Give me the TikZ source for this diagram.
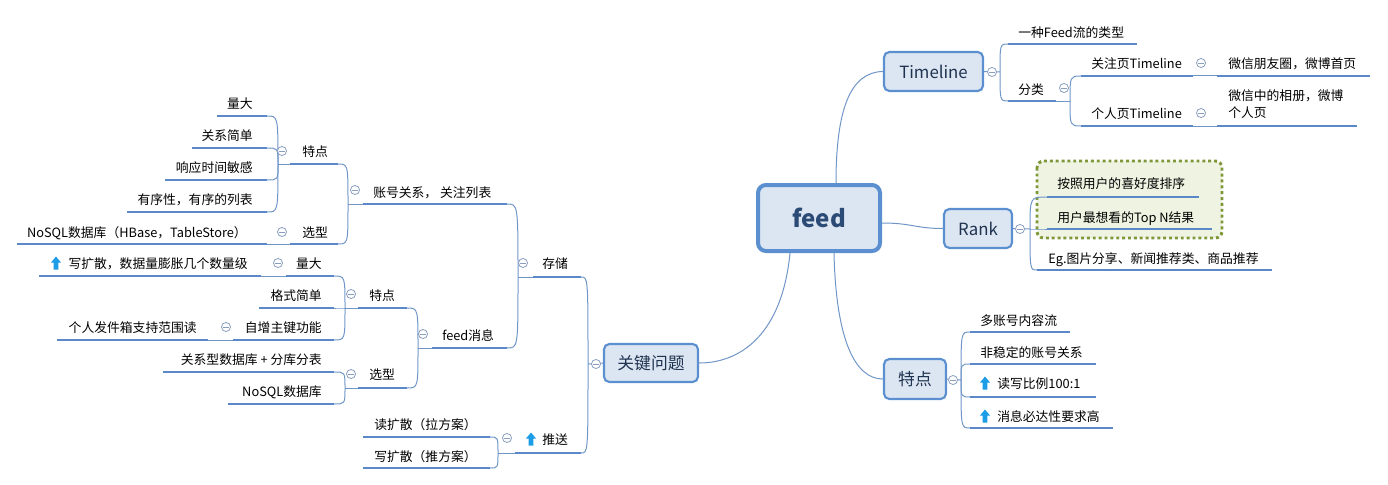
\documentclass[tikz,border=0pt]{standalone}
\usepackage{fontspec}
\setmainfont{Noto Sans CJK SC}
\definecolor{ulcol}{HTML}{5A88C8}
\definecolor{lncol}{HTML}{7096C8}
\definecolor{topicedge}{HTML}{5B8FD0}
\definecolor{topicfill}{HTML}{DCE6F2}
\definecolor{topictext}{HTML}{1F3350}
\definecolor{feedtext}{HTML}{2B4A75}
\definecolor{knobcol}{HTML}{8A9FBF}
\definecolor{iconcol}{HTML}{1C9DE6}
\definecolor{dotedge}{HTML}{7E9739}
\definecolor{dotfill}{HTML}{EFF4E2}
\tikzset{
  topic/.style={draw=topicedge, line width=1.6pt, fill=topicfill, rounded corners=4pt,
    text=topictext, font=\fontsize{12.6}{14}\selectfont, inner sep=0pt},
  lbl/.style={inner sep=0pt, text height=0.88em, text depth=0.12em,
    font=\fontsize{9.6}{11}\selectfont},
  uline/.style={draw=ulcol, line width=2.2pt},
  conn/.style={draw=lncol, line width=0.75pt},
  knob/.pic={\draw[knobcol, fill=white, line width=0.6pt] (0,0) circle[radius=3.4pt];
    \draw[knobcol, line width=0.6pt] (-1.9pt,0) -- (1.9pt,0);},
  upicon/.pic={\fill[iconcol] (0,-6.5) -- (5,-0.5) -- (2.3,-0.5) -- (2.3,6.5)
    -- (-2.3,6.5) -- (-2.3,-0.5) -- (-5,-0.5) -- cycle;}
}
\newcommand\branch[2]{\draw[conn] (#1) .. controls (#1 |- #2) .. (#2);}
\begin{document}
\begin{tikzpicture}[x=0.75pt,y=-0.75pt]
\useasboundingbox (0,0) rectangle (1388,485);
\draw[dotedge, fill=dotfill, line width=2.2pt, dash pattern=on 2.2pt off 2.2pt, rounded corners=5pt]
  (1037,161) rectangle (1222,238);

% centre and main topics
\node[topic, line width=3pt, rounded corners=6pt, minimum width=91.5pt, minimum height=49.5pt,
  text=feedtext, font=\bfseries\fontsize{18}{20}\selectfont] (feed) at (819,218) {feed};
\node[topic, minimum width=74.25pt, minimum height=29.25pt] (timeline) at (933.5,71.5) {Timeline};
\node[topic, minimum width=51pt, minimum height=29.25pt] (rank) at (978,228.5) {Rank};
\node[topic, minimum width=46.5pt, minimum height=30pt] (tedian) at (915,379) {特点};
\node[topic, minimum width=70.5pt, minimum height=28.5pt] (keyq) at (651,363) {关键问题};
\draw[conn] (feed.north -| 836,0) .. controls (836,110) and (850,72) .. (timeline.west);
\draw[conn] (feed.east |- 0,223) .. controls (912,223) and (915,228.5) .. (rank.west);
\draw[conn] (feed.south -| 834,0) .. controls (836,340) and (855,379) .. (tedian.west);
\draw[conn] (feed.south -| 790,0) .. controls (782,335) and (740,363) .. (keyq.east);

% Timeline
\coordinate (tlj) at (1000,72);
\coordinate (tl1) at (1008,44);
\coordinate (tl2) at (1008,101);
\draw[conn] (timeline.east) -- (tlj);
\branch{tlj}{tl1} \branch{tlj}{tl2}
\draw[uline] (tl1) -- ++(129,0);
\draw[uline] (tl2) -- ++(48,0) coordinate (tl2e);
\node[lbl, anchor=west] (tltype) at (1018,32) {一种Feed流的类型};
\node[lbl, anchor=west] (tlcat) at (1018,89) {分类};
\coordinate (clj) at (1070,101);
\coordinate (cl1) at (1081,76);
\coordinate (cl2) at (1081,126);
\draw[conn] (tl2e) -- (clj);
\branch{clj}{cl1} \branch{clj}{cl2}
\draw[uline] (cl1) -- ++(112,0) coordinate (cl1e);
\draw[uline] (cl2) -- ++(112,0) coordinate (cl2e);
\draw[conn] (cl1e) -- ++(24,0) coordinate (cr1);
\draw[conn] (cl2e) -- ++(24,0) coordinate (cr2);
\draw[uline] (cr1) -- ++(153,0);
\draw[uline] (cr2) -- ++(140,0);
\node[lbl, anchor=west] (clfollow) at (1091,63) {关注页Timeline};
\node[lbl, anchor=west] (clself) at (1091,113) {个人页Timeline};
\node[lbl, anchor=west] (crfollow) at (1228,63) {微信朋友圈，微博首页};
\node[inner sep=0pt, font=\fontsize{9.6}{12.75}\selectfont, align=left, anchor=west]
  (crself) at (1228,104.5) {微信中的相册，微博\\个人页};
\pic at (992,72) {knob};
\pic at (1064,88) {knob};
\pic at (1201,63) {knob};
\pic at (1201,113) {knob};

% Rank
\coordinate (rkj) at (1030,229);
\coordinate (rk1) at (1047,197);
\coordinate (rk2) at (1047,229);
\coordinate (rk3) at (1037,270);
\draw[conn] (rank.east) -- (rkj);
\branch{rkj}{rk1} \branch{rkj}{rk2} \branch{rkj}{rk3}
\draw[uline] (rk1) -- ++(152,0);
\draw[uline] (rk2) -- ++(165,0);
\draw[uline] (rk3) -- ++(235,0);
\node[lbl, anchor=west] (rkpref) at (1057,183) {按照用户的喜好度排序};
\node[lbl, anchor=west] (rktop) at (1057,217) {用户最想看的Top N结果};
\node[lbl, anchor=west] (rkeg) at (1048,258) {Eg.图片分享、新闻推荐类、商品推荐};
\pic at (1020,229) {knob};

% 特点 (right)
\coordinate (tdj) at (961,380);
\draw[conn] (tedian.east) -- (tdj);
\foreach \n/\y/\w in {1/332/100, 2/364/126, 3/397/126, 4/428/143} {
  \coordinate (td\n) at (970,\y);
  \branch{tdj}{td\n}
  \draw[uline] (td\n) -- ++(\w,0);
}
\node[lbl, anchor=west] (tdmulti) at (980,320) {多账号内容流};
\node[lbl, anchor=west] (tdunst) at (980,352) {非稳定的账号关系};
\node[lbl, anchor=west] (tdratio) at (997,383) {读写比例100:1};
\node[lbl, anchor=west] (tdreach) at (997,416) {消息必达性要求高};
\pic at (985,383) {upicon};
\pic at (985,416) {upicon};
\pic at (953,380) {knob};

% 关键问题
\coordinate (kqj) at (588,364);
\coordinate (kq1) at (581,277);
\coordinate (kq2) at (581,453);
\draw[conn] (keyq.west) -- (kqj);
\branch{kqj}{kq1} \branch{kqj}{kq2}
\draw[uline] (kq1) -- ++(-48,0) coordinate (kq1e);
\draw[uline] (kq2) -- ++(-66,0) coordinate (kq2e);
\node[lbl, anchor=west] (store) at (542,263) {存储};
\node[lbl, anchor=west] (push) at (542,439) {推送};
\pic at (531,439) {upicon};
\pic at (596,364) {knob};

% 存储
\coordinate (stj) at (518,277);
\coordinate (st1) at (507,204);
\coordinate (st2) at (507,348);
\draw[conn] (kq1e) -- (stj);
\branch{stj}{st1} \branch{stj}{st2}
\draw[uline] (st1) -- ++(-144,0) coordinate (st1e);
\draw[uline] (st2) -- ++(-75,0) coordinate (st2e);
\node[lbl, anchor=west] (account) at (373,192) {账号关系， 关注列表};
\node[lbl, anchor=west] (feedmsg) at (442,335) {feed消息};
\pic at (523,263) {knob};
\pic at (355,190) {knob};
\pic at (423,334) {knob};

% 推送
\coordinate (psj) at (498,453);
\coordinate (ps1) at (490,437);
\coordinate (ps2) at (490,468);
\draw[conn] (kq2e) -- (psj);
\branch{psj}{ps1} \branch{psj}{ps2}
\draw[uline] (ps1) -- ++(-127,0);
\draw[uline] (ps2) -- ++(-127,0);
\node[lbl, anchor=west] (pull) at (374,424) {读扩散（拉方案）};
\node[lbl, anchor=west] (pushw) at (374,456) {写扩散（推方案）};
\pic at (507,438) {knob};

% 账号关系
\coordinate (acj) at (348,204);
\coordinate (ac1) at (338,164);
\coordinate (ac2) at (338,244);
\draw[conn] (st1e) -- (acj);
\branch{acj}{ac1} \branch{acj}{ac2}
\draw[uline] (ac1) -- ++(-48,0) coordinate (ac1e);
\draw[uline] (ac2) -- ++(-48,0) coordinate (ac2e);
\node[lbl, anchor=west] (acfeat) at (302,151) {特点};
\node[lbl, anchor=west] (acsel) at (302,232) {选型};
\coordinate (afj) at (278,164);
\draw[conn] (ac1e) -- (afj);
\foreach \y/\x/\t in {116/217/量大, 148/192/关系简单, 180/165/响应时间敏感, 212/127/有序性，有序的列表} {
  \coordinate (af\y) at (267,\y);
  \branch{afj}{af\y}
  \draw[uline] (af\y) -- (\x,\y);
  \node[lbl, anchor=east] (aft\y) at (253,\y-13) {\t};
}
\draw[conn] (ac2e) -- ++(-23,0) coordinate (as1);
\draw[uline] (as1) -- ++(-250,0);
\node[lbl, anchor=east] (asnosql) at (247,232) {NoSQL数据库（HBase，TableStore）};
\pic at (282,151) {knob};
\pic at (282,232) {knob};

% feed消息
\coordinate (fmj) at (418,348);
\coordinate (fm1) at (407,308);
\coordinate (fm2) at (407,388);
\draw[conn] (st2e) -- (fmj);
\branch{fmj}{fm1} \branch{fmj}{fm2}
\draw[uline] (fm1) -- ++(-49,0) coordinate (fm1e);
\draw[uline] (fm2) -- ++(-49,0) coordinate (fm2e);
\node[lbl, anchor=west] (fmfeat) at (369,295) {特点};
\node[lbl, anchor=west] (fmsel) at (369,374) {选型};
\pic at (351,294) {knob};
\pic at (351,374) {knob};
\coordinate (ffj) at (345,308);
\draw[conn] (fm1e) -- (ffj);
\foreach \y/\x/\t in {276/286/量大, 308/259/格式简单, 340/233/自增主键功能} {
  \coordinate (ff\y) at (334,\y);
  \branch{ffj}{ff\y}
  \draw[uline] (ff\y) -- (\x,\y);
  \node[lbl, anchor=east] (fft\y) at (322,\y-13) {\t};
}
\draw[conn] (286,276) -- (261,276) coordinate (fw1);
\draw[uline] (fw1) -- (39,276);
\node[lbl, anchor=east] (fwexpand) at (248,263) {写扩散，数据量膨胀几个数量级};
\pic at (56,263) {upicon};
\pic at (278,263) {knob};
\draw[conn] (233,340) -- (208,340) coordinate (fw2);
\draw[uline] (fw2) -- (57,340);
\node[lbl, anchor=east] (fwoutbox) at (197,327) {个人发件箱支持范围读};
\pic at (226,327) {knob};
\coordinate (fsj) at (345,388);
\draw[conn] (fm2e) -- (fsj);
\foreach \y/\x/\t in {372/163/关系型数据库 + 分库分表, 404/228/NoSQL数据库} {
  \coordinate (fs\y) at (334,\y);
  \branch{fsj}{fs\y}
  \draw[uline] (fs\y) -- (\x,\y);
  \node[lbl, anchor=east] (fst\y) at (322,\y-13) {\t};
}
\end{tikzpicture}
\end{document}
